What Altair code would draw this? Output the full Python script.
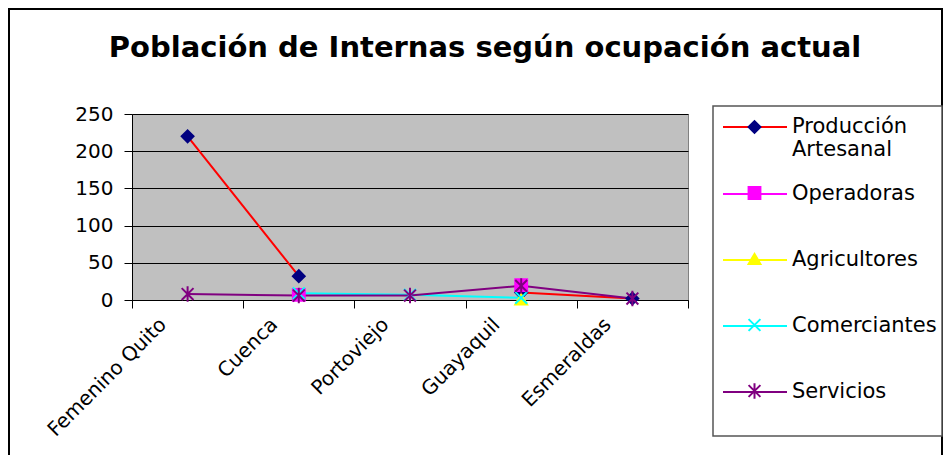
import altair as alt
import pandas as pd

categorias = ["Femenino Quito", "Cuenca", "Portoviejo", "Guayaquil", "Esmeraldas"]
series = ["Producción Artesanal", "Operadoras", "Agricultores", "Comerciantes", "Servicios"]
produccion_artesanal = [220, 32, None, 10, 2]
operadoras = [None, 7, None, 20, None]
agricultores = [None, None, None, 1, None]
comerciantes = [None, 9, 7, 3, None]
servicios = [8, 6, 6, 19, 2]
y_ticks = [0, 50, 100, 150, 200, 250]

colores_linea = ["#FF0000", "#FF00FF", "#FFFF00", "#00FFFF", "#800080"]
colores_marcador = ["#000080", "#FF00FF", "#FFFF00", "#00FFFF", "#800080"]
formas = ["diamond", "square", "triangle-up",
          "M-1,-1L1,1M-1,1L1,-1",
          "M-1,-1L1,1M-1,1L1,-1M0,-1.3L0,1.3"]

valores = [produccion_artesanal, operadoras, agricultores, comerciantes, servicios]
filas = []
for s, vals in zip(series, valores):
    for c, v in zip(categorias, vals):
        filas.append({"categoria": c, "serie": s, "serie_m": s, "valor": v})
df = pd.DataFrame(filas)

FONT = "DejaVu Sans"

x_enc = alt.X("categoria:N", sort=categorias,
              scale=alt.Scale(type="band", paddingInner=0, paddingOuter=0),
              axis=alt.Axis(title=None, tickBand="extent", labelAngle=-45,
                            labelAlign="right", labelBaseline="top", labelOffset=-32,
                            labelFont=FONT, labelFontSize=20, labelColor="black",
                            labelPadding=6, tickColor="black", tickSize=8,
                            domainColor="black", grid=False))
y_enc = alt.Y("valor:Q", scale=alt.Scale(domain=[0, 250], nice=False),
              axis=alt.Axis(title=None, values=y_ticks, labelFont=FONT,
                            labelFontSize=20, labelColor="black", labelPadding=11,
                            tickColor="black", tickSize=8, domainColor="black",
                            gridColor="black", gridWidth=1))

lista_series = "[" + ",".join("'" + s + "'" for s in series) + "]"
lista_colores = "[" + ",".join("'" + c + "'" for c in colores_marcador) + "]"
expr_color = lista_colores + "[indexof(" + lista_series + ", datum.value)]"

leg_linea = alt.Legend(orient="none", legendX=590, legendY=-19, title=None,
                       symbolType="stroke", symbolSize=4096, symbolStrokeWidth=2,
                       clipHeight=64, rowPadding=2, padding=0,
                       labelFont=FONT, labelFontSize=21, labelColor="black",
                       labelOffset=4, labelLimit=400, labelBaseline="middle",
                       labelExpr="datum.label == 'Producción Artesanal' ? ['Producción', 'Artesanal'] : datum.label")

leg_marcador = alt.Legend(orient="none", legendX=590, legendY=-19, title=None,
                          symbolSize=140, symbolStrokeWidth=2, symbolOffset=22,
                          symbolFillColor={"expr": expr_color},
                          symbolStrokeColor={"expr": expr_color},
                          clipHeight=64, rowPadding=2, padding=0,
                          labelFontSize=21, labelExpr="''", labelFont=FONT)

lineas = alt.Chart(df).mark_line(strokeWidth=2, invalid="break-paths-show-domains").encode(
    x=x_enc, y=y_enc,
    color=alt.Color("serie:N", scale=alt.Scale(domain=series, range=colores_linea),
                    legend=leg_linea),
    detail="serie:N",
)

puntos = alt.Chart(df).mark_point(filled=True, size=140, strokeWidth=2, opacity=1).encode(
    x=x_enc, y=y_enc,
    fill=alt.Fill("serie_m:N", sort=series, scale=alt.Scale(range=colores_marcador),
                  legend=None),
    stroke=alt.Stroke("serie_m:N", sort=series, scale=alt.Scale(range=colores_marcador),
                      legend=None),
    shape=alt.Shape("serie_m:N", sort=series, scale=alt.Scale(range=formas),
                    legend=leg_marcador),
)

uno = pd.DataFrame({"k": [0]})
marco = alt.Chart(uno).mark_rect(fillOpacity=0, stroke="black", strokeWidth=2).encode(
    x=alt.value(-123), x2=alt.value(810), y=alt.value(-105), y2=alt.value(400))
caja_leyenda = alt.Chart(uno).mark_rect(fill="white", stroke="#555555", strokeWidth=1.5).encode(
    x=alt.value(581), x2=alt.value(810), y=alt.value(-8), y2=alt.value(322))

chart = alt.layer(marco, caja_leyenda, lineas, puntos).properties(
    width=556, height=186,
    autosize=alt.AutoSizeParams(type="none"),
    padding={"left": 124, "top": 106, "right": 255, "bottom": 155},
    title=alt.TitleParams("Población de Internas según ocupación actual",
                          font=FONT, fontSize=29, fontWeight="bold", color="black",
                          anchor="middle", frame="group", dx=75, offset=-78,
                          baseline="alphabetic"),
    background="white",
).configure_view(fill="#C0C0C0", stroke="#808080", strokeWidth=1)

chart.save("out.html", embed_options={"renderer": "svg", "actions": False})
